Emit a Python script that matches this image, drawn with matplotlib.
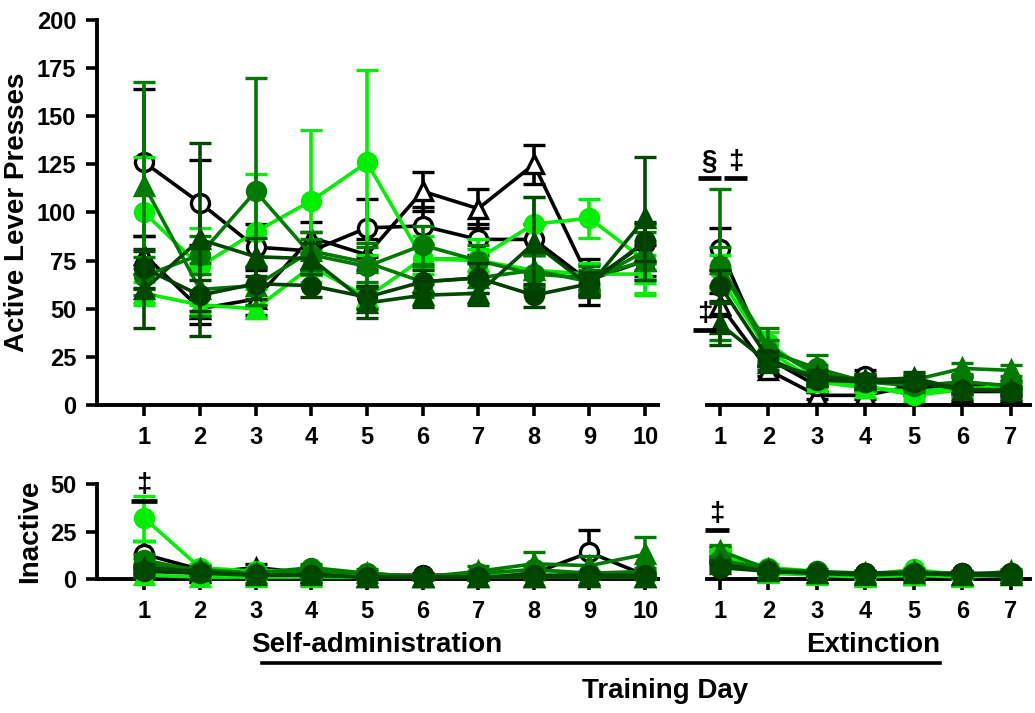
import matplotlib
matplotlib.use("Agg")
import matplotlib.pyplot as plt
from matplotlib.lines import Line2D

plt.rcParams['font.family'] = ['Liberation Sans', 'DejaVu Sans']
plt.rcParams['font.weight'] = 'bold'

# Groups: marker / colour / face
markers = ['o', '^', 'o', '^', 'o', '^', 'o', '^']
colors = ['black', 'black', '#00ee00', '#00ee00', '#007a00', '#007a00', '#003f00', '#004a00']
faces = ['white', 'white', '#00ee00', '#00ee00', '#007a00', '#007a00', '#003f00', '#004a00']

sa_days = list(range(1, 11))
ext_days = list(range(1, 8))

# Self-administration, active lever presses (mean, SEM)
sa_active_mean = [
    [126, 105, 82, 80, 92, 93, 86, 86, 64, 84],
    [78, 50, 55, 87, 78, 111, 102, 125, 65, 75],
    [100, 72, 90, 106, 126, 76, 76, 94, 97, 75],
    [58, 52, 50, 72, 56, 76, 75, 70, 68, 68],
    [67, 78, 111, 78, 72, 83, 75, 68, 66, 75],
    [114, 60, 62, 80, 74, 64, 66, 70, 64, 80],
    [71, 57, 63, 62, 56, 64, 66, 57, 63, 85],
    [60, 86, 77, 76, 53, 57, 58, 84, 62, 97],
]
sa_active_sem = [
    [38, 22, 12, 10, 15, 10, 8, 8, 12, 10],
    [10, 8, 8, 8, 8, 10, 10, 10, 8, 8],
    [29, 20, 30, 37, 48, 12, 10, 14, 10, 18],
    [6, 6, 5, 8, 6, 8, 6, 8, 6, 10],
    [10, 10, 59, 8, 10, 10, 8, 10, 6, 10],
    [54, 14, 10, 10, 10, 8, 8, 8, 6, 10],
    [10, 8, 8, 6, 6, 6, 8, 6, 6, 10],
    [20, 50, 10, 8, 8, 6, 6, 24, 6, 32],
]

# Extinction, active lever presses
ext_active_mean = [
    [81, 24, 10, 15, 8, 12, 6],
    [52, 18, 5, 5, 10, 7, 7],
    [70, 32, 14, 10, 5, 8, 10],
    [66, 28, 12, 9, 7, 9, 8],
    [72, 28, 19, 12, 10, 12, 10],
    [73, 30, 16, 13, 13, 19, 18],
    [62, 24, 13, 12, 12, 8, 7],
    [42, 22, 15, 13, 14, 8, 8],
]
ext_active_sem = [
    [11, 4, 3, 3, 2, 3, 2],
    [6, 3, 2, 2, 2, 2, 2],
    [8, 6, 4, 3, 2, 2, 2],
    [6, 5, 3, 2, 2, 2, 2],
    [10, 6, 7, 3, 3, 3, 2],
    [39, 10, 5, 3, 3, 3, 3],
    [8, 4, 3, 3, 3, 2, 2],
    [11, 4, 3, 3, 3, 2, 2],
]

# Self-administration, inactive lever presses
sa_inactive_mean = [
    [13, 5, 3, 5, 2, 2, 2, 3, 14, 2],
    [5, 3, 6, 3, 1, 1, 1, 1, 2, 1],
    [32, 6, 4, 5, 2, 1, 2, 5, 2, 2],
    [2, 1, 1, 1, 1, 1, 1, 1, 1, 1],
    [10, 4, 3, 6, 3, 1, 3, 5, 3, 4],
    [8, 5, 3, 4, 3, 1, 4, 8, 7, 13],
    [4, 3, 2, 2, 1, 1, 1, 2, 2, 2],
    [6, 4, 2, 2, 1, 1, 1, 1, 1, 1],
]
sa_inactive_sem = [
    [7, 2, 1, 2, 1, 1, 1, 1, 12, 1],
    [2, 1, 2, 1, 1, 1, 1, 1, 1, 1],
    [12, 2, 1, 2, 1, 1, 1, 2, 1, 1],
    [1, 1, 1, 1, 1, 1, 1, 1, 1, 1],
    [3, 2, 1, 2, 1, 1, 1, 2, 1, 2],
    [3, 2, 1, 2, 2, 1, 3, 6, 5, 9],
    [2, 1, 1, 1, 1, 1, 1, 1, 1, 1],
    [2, 1, 1, 1, 1, 1, 1, 1, 1, 1],
]

# Extinction, inactive lever presses
ext_inactive_mean = [
    [12, 5, 3, 3, 3, 3, 2],
    [14, 4, 3, 2, 2, 2, 3],
    [13, 6, 4, 2, 5, 2, 3],
    [12, 3, 2, 1, 2, 1, 2],
    [10, 5, 4, 3, 3, 2, 3],
    [15, 5, 3, 3, 4, 2, 4],
    [6, 4, 3, 3, 3, 3, 3],
    [8, 4, 3, 2, 3, 2, 2],
]
ext_inactive_sem = [
    [3, 1, 1, 1, 1, 1, 1],
    [3, 1, 1, 1, 1, 1, 1],
    [3, 2, 1, 1, 1, 1, 1],
    [2, 1, 1, 1, 1, 1, 1],
    [2, 1, 1, 1, 1, 1, 1],
    [3, 1, 1, 1, 1, 1, 1],
    [2, 1, 1, 1, 1, 1, 1],
    [2, 1, 1, 1, 1, 1, 1],
]

fig = plt.figure(figsize=(10.35, 7.13), dpi=100)
ax_sa = fig.add_axes([0.0937, 0.432, 0.542, 0.540])
ax_ext = fig.add_axes([0.683, 0.432, 0.312, 0.540])
ax_sai = fig.add_axes([0.0937, 0.188, 0.542, 0.133])
ax_exti = fig.add_axes([0.683, 0.188, 0.312, 0.133])

# open groups underneath, green groups on top
draw_order = [1, 0, 2, 3, 4, 5, 6, 7]


def draw_panel(ax, days, means, sems):
    for z, i in enumerate(draw_order):
        ax.errorbar(days, means[i], yerr=sems[i], fmt='-', marker=markers[i],
                    color=colors[i], mfc=faces[i], mec=colors[i], mew=2.4,
                    markersize=13, lw=2.6, elinewidth=2.6, capsize=8, capthick=2.6,
                    clip_on=False, zorder=3 + z)


def style(ax, days, ymax, ystep, show_y):
    if len(days) == 10:
        ax.set_xlim(days[0] - 0.85, days[-1] + 0.23)
    else:
        ax.set_xlim(days[0] - 0.27, days[-1] + 0.39)
    ax.set_ylim(0, ymax)
    ax.set_xticks(days)
    ax.spines['top'].set_visible(False)
    ax.spines['right'].set_visible(False)
    ax.spines['bottom'].set_linewidth(2.8)
    ax.spines['left'].set_linewidth(2.8)
    ax.tick_params(width=2.6, length=8, direction='out', labelsize=17, pad=7)
    if show_y:
        ax.set_yticks(range(0, ymax + 1, ystep))
    else:
        ax.spines['left'].set_visible(False)
        ax.set_yticks([])
    for lab in ax.get_xticklabels() + ax.get_yticklabels():
        lab.set_fontweight('bold')


draw_panel(ax_sa, sa_days, sa_active_mean, sa_active_sem)
draw_panel(ax_ext, ext_days, ext_active_mean, ext_active_sem)
draw_panel(ax_sai, sa_days, sa_inactive_mean, sa_inactive_sem)
draw_panel(ax_exti, ext_days, ext_inactive_mean, ext_inactive_sem)

style(ax_sa, sa_days, 200, 25, True)
style(ax_ext, ext_days, 200, 25, False)
style(ax_sai, sa_days, 50, 25, True)
style(ax_exti, ext_days, 50, 25, False)

ax_sa.set_ylabel('Active Lever Presses', fontsize=20, fontweight='bold', labelpad=5)
ax_sai.set_ylabel('Inactive', fontsize=20, fontweight='bold', labelpad=5)


def mark(ax, x, y, sym, w=0.24):
    ax.text(x, y + 1.5, sym, ha='center', va='bottom', fontsize=20,
            fontweight='bold', clip_on=False, zorder=20)
    ax.plot([x - w, x + w], [y, y], color='black', lw=3.4,
            solid_capstyle='butt', clip_on=False, zorder=20)


# significance marks
mark(ax_ext, 0.78, 118, '§')
mark(ax_ext, 1.32, 118, '‡')
mark(ax_ext, 0.68, 39, '‡')
mark(ax_sai, 1.0, 41, '‡', w=0.23)
mark(ax_exti, 0.94, 26, '‡')

# phase labels and underline
fig.text(0.243, 0.077, 'Self-administration', ha='left', va='bottom',
         fontsize=20, fontweight='bold')
fig.text(0.908, 0.077, 'Extinction', ha='right', va='bottom',
         fontsize=20, fontweight='bold')
fig.add_artist(Line2D([0.253, 0.908], [0.0705, 0.0705],
                      color='black', lw=2.6, transform=fig.transFigure))
fig.text(0.643, 0.031, 'Training Day', ha='center', va='center',
         fontsize=20, fontweight='bold')

fig.savefig('out.png', dpi=100)
